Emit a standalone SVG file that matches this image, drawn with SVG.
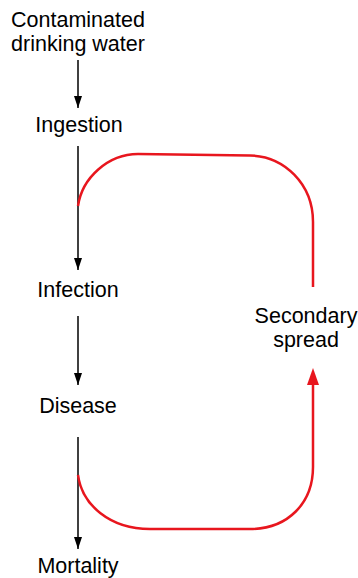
<svg xmlns="http://www.w3.org/2000/svg" width="358" height="578" viewBox="0 0 358 578">
<defs>
<style>
text{font-family:"Liberation Sans",Arial,sans-serif;font-size:21.5px;fill:#000;text-anchor:middle}
.blk{stroke:#000;stroke-width:1.5;fill:none}
.red{stroke:#e8161e;stroke-width:2.5;fill:none}
</style>
<marker id="ab" markerWidth="12" markerHeight="8" refX="12" refY="4" orient="auto" markerUnits="userSpaceOnUse" viewBox="0 0 12 8">
<path d="M0,0 L12,4 L0,8 Z" fill="#000"/>
</marker>
</defs>
<rect width="358" height="578" fill="#fff"/>
<g id="n-water"><text x="78" y="27">Contaminated</text><text x="78" y="51">drinking water</text></g>
<g id="n-ingestion"><text x="79" y="132">Ingestion</text></g>
<g id="n-infection"><text x="78" y="297">Infection</text></g>
<g id="n-disease"><text x="78" y="413">Disease</text></g>
<g id="n-mortality"><text x="78" y="573">Mortality</text></g>
<g id="n-secondary"><text x="306" y="323">Secondary</text><text x="306" y="347">spread</text></g>
<g id="connectors">
<path class="blk" d="M78,60 V108" marker-end="url(#ab)"/>
<path class="blk" d="M78,146 V270" marker-end="url(#ab)"/>
<path class="blk" d="M78,316 V385" marker-end="url(#ab)"/>
<path class="blk" d="M78,437 V549" marker-end="url(#ab)"/>
<path class="red" d="M78,206 C82,178 108,154 138,154 L250,155.5 C284,156 313,184 313,222 V287"/>
<path class="red" d="M78,475 C82,505 110,529 150,529 L250,529 C288,529 313,503 313,467 V384"/>
<path d="M313,368 L319,385 L307,385 Z" fill="#e8161e"/>
</g>
</svg>
